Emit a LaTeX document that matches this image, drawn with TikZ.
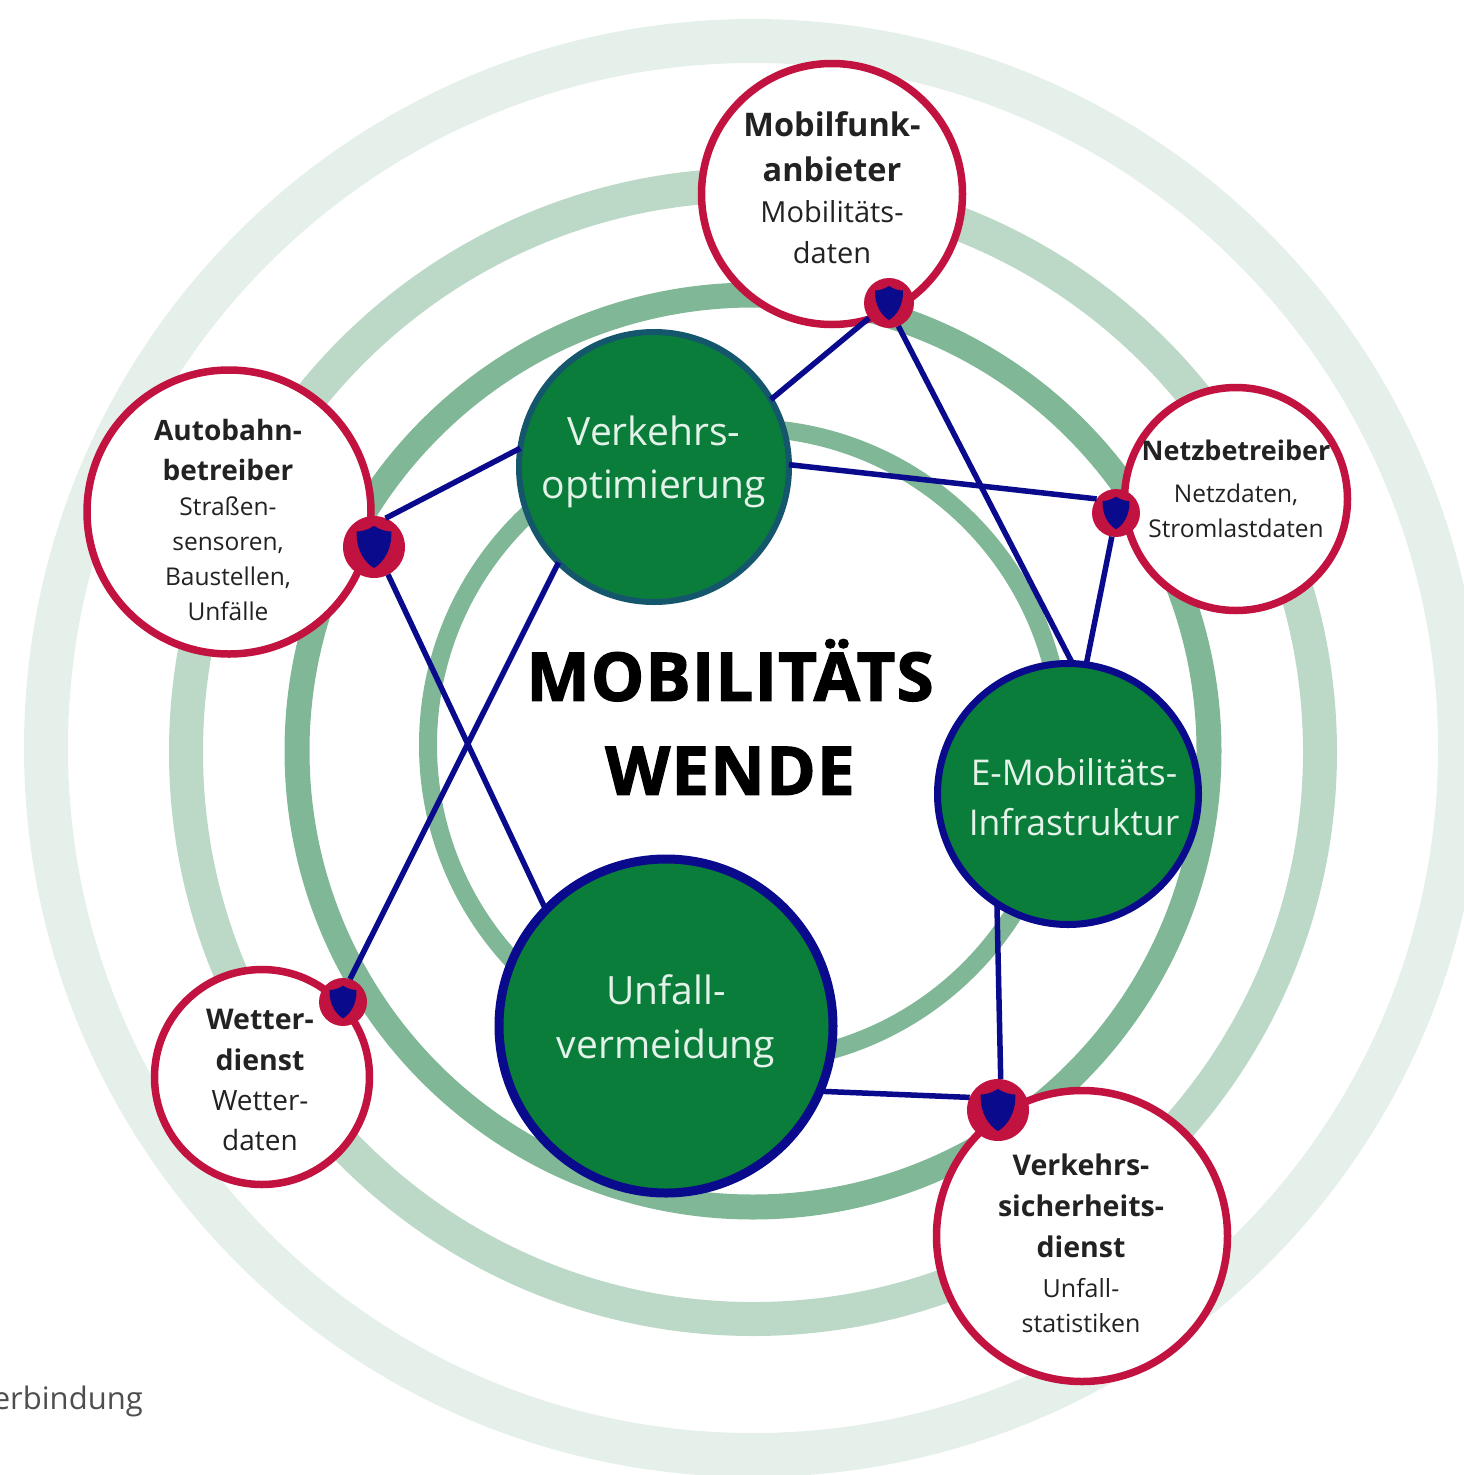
\documentclass[tikz,border=0pt]{standalone}
\usepackage{fontspec}
\setmainfont{Open Sans}
\definecolor{crim}{HTML}{C2123F}
\definecolor{navy}{HTML}{0A0A8C}
\definecolor{gr}{HTML}{0A7D3A}
\definecolor{teal2}{HTML}{14566B}
\definecolor{ringa}{HTML}{E6F0EA}
\definecolor{ringb}{HTML}{BCD9C8}
\definecolor{ringc}{HTML}{80B897}
\definecolor{txt}{HTML}{222222}
\definecolor{lite}{HTML}{E4F3E9}
\newcommand{\fs}[2]{\fontsize{#1}{#2}\selectfont}
\tikzset{
  ringn/.style={circle,draw=#1,fill=none,inner sep=0pt,outer sep=0pt},
  actor/.style={circle,draw=crim,fill=white,line width=7.5pt,inner sep=0pt,outer sep=0pt},
  topic/.style={circle,fill=gr,inner sep=0pt,outer sep=0pt},
  badge/.style={circle,fill=crim,inner sep=0pt,outer sep=0pt},
  link/.style={draw=navy,line width=5.5pt},
  lab/.style={text width=300pt,text=txt,inner sep=0pt},
  toplab/.style={text width=300pt,text=lite,inner sep=0pt},
  shield/.pic={\fill[navy] (0,-.68) .. controls (-.2,-.55) and (-.4,-.5) .. (-.56,-.5)
     .. controls (-.58,.1) and (-.3,.5) .. (0,.68)
     .. controls (.3,.5) and (.58,.1) .. (.56,-.5)
     .. controls (.4,-.5) and (.2,-.55) .. (0,-.68) -- cycle;}
}
\begin{document}
\begin{tikzpicture}[x=1pt,y=-1pt]
\useasboundingbox (0,0) rectangle (1464,1475);
\clip (0,0) rectangle (1464,1475);
% rings
\node[ringn=ringa,line width=44pt,minimum size=1414pt] (r1) at (753,748) {};
\node[ringn=ringb,line width=34pt,minimum size=1134pt] (r2) at (753,752) {};
\node[ringn=ringc,line width=25pt,minimum size=912pt] (r3) at (753,751) {};
\node[ringn=ringc,line width=18pt,minimum size=634pt] (r4) at (745,745) {};
% actors
\node[actor,minimum size=261pt] (mob) at (832,194) {};
\node[actor,minimum size=284pt] (aut) at (229,512) {};
\node[actor,minimum size=223pt] (net) at (1236,499) {};
\node[actor,minimum size=215pt] (wet) at (262,1077) {};
\node[actor,minimum size=291pt] (sic) at (1082,1236) {};
% topics
\node[topic,draw=teal2,line width=6pt,minimum size=270pt] (vo) at (654,467) {};
\node[topic,draw=navy,line width=9pt,minimum size=334pt] (uv) at (666,1026) {};
\node[topic,draw=navy,line width=7pt,minimum size=261pt] (em) at (1068,794) {};
% badges
\node[badge,minimum size=50pt] (bmob) at (889,303) {};
\node[badge,minimum size=62pt] (baut) at (374,547) {};
\node[badge,minimum size=48pt] (bnet) at (1116,513) {};
\node[badge,minimum size=48pt] (bwet) at (343,1002) {};
\node[badge,minimum size=62pt] (bsic) at (998,1110) {};
\pic[scale=25] at (bmob) {shield};
\pic[scale=31] at (baut) {shield};
\pic[scale=24] at (bnet) {shield};
\pic[scale=24] at (bwet) {shield};
\pic[scale=31] at (bsic) {shield};
% connectors
\draw[link] (vo.30) -- (bmob.217);
\draw[link] (vo.172) -- (baut.68);
\draw[link] (vo.1) -- (bnet.144);
\draw[link] (vo.225) -- (bwet.73);
\draw[link] (uv.136) -- (baut.-63);
\draw[link] (uv.-23) -- (bsic.156);
\draw[link] (em.88) -- (bmob.-68);
\draw[link] (em.82) -- (bnet.-100);
\draw[link] (em.237) -- (bsic.85);
% labels
\node[lab] (tmob) at (832,188) {\centering\fs{32.5}{45}\bfseries Mobilfunk-\\anbieter\par\fs{29}{41}\mdseries Mobilitäts-\\daten\par};
\node[lab] (taut) at (228,520) {\centering\fs{28}{40}\bfseries Autobahn-\\betreiber\par\fs{24.5}{35}\mdseries Straßen-\\sensoren,\\Baustellen,\\Unfälle\par};
\node[lab] (tnet) at (1236,489) {\centering\fs{27}{40}\bfseries Netzbetreiber\par\vspace{7pt}\fs{24.5}{35}\mdseries Netzdaten,\\Stromlastdaten\par};
\node[lab] (twet) at (260,1080) {\centering\fs{28.5}{41}\bfseries Wetter-\\dienst\par\fs{28}{40}\mdseries Wetter-\\daten\par};
\node[lab] (tsic) at (1081,1243) {\centering\fs{28.5}{41}\bfseries Verkehrs-\\sicherheits-\\dienst\par\vspace{5pt}\fs{25}{35}\mdseries Unfall-\\statistiken\par};
\node[toplab] (tvo) at (654,462) {\centering\fs{39}{53}Verkehrs-\\optimierung\par};
\node[toplab] (tuv) at (666,1021) {\centering\fs{39}{54}Unfall-\\vermeidung\par};
\node[toplab] (tem) at (1074,797) {\centering\fs{35.5}{50}E-Mobilitäts-\\Infrastruktur\par};
\node[text width=600pt,text=black,inner sep=0pt] (title) at (730,717) {\centering\bfseries\addfontfeatures{FakeBold=2,LetterSpace=2}\fs{67}{94}MOBILITÄTS\\WENDE\par};
\node[text=txt!80,inner sep=0pt,anchor=base east] (legend) at (143,1409) {\fs{31}{40}erbindung};
\end{tikzpicture}
\end{document}
